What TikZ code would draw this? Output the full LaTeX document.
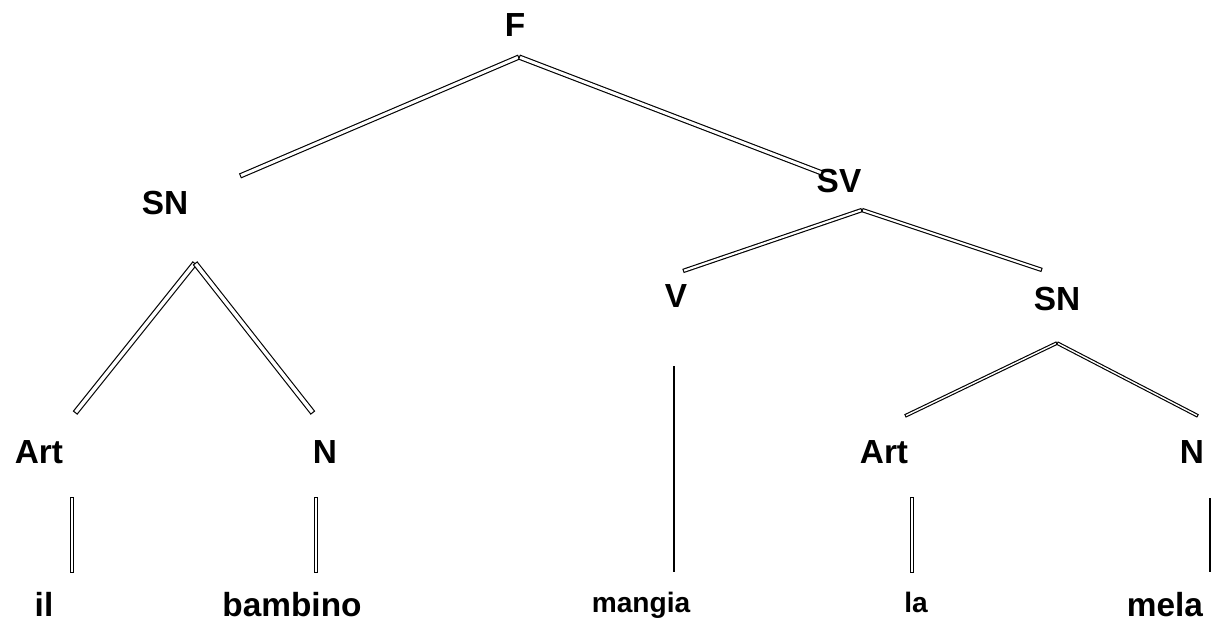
\documentclass[tikz,border=0pt]{standalone}
\usepackage{fontspec}
\setmainfont{Liberation Sans}
\usetikzlibrary{positioning}
\tikzset{
   bar/.style={draw=black, line width=#1,
               postaction={draw=white, line width=#1-1.3pt, shorten <=0.65pt, shorten >=0.65pt}},
   stem/.style={draw=black, line width=1pt}
}
\tikzstyle{cat} = [anchor=base, inner sep=0pt, font=\fontsize{19}{23}\selectfont\bfseries]
\tikzstyle{word} = [anchor=base, inner sep=0pt, font=\fontsize{19}{23}\selectfont\bfseries]
\tikzstyle{smallword} = [anchor=base, inner sep=0pt, font=\fontsize{16}{20}\selectfont\bfseries]

\begin{document}
\begin{tikzpicture}[x=0.2mm,y=-0.2mm]
\useasboundingbox (0,0) rectangle (1212,623);

%% Category labels
\node[cat] (F) at (515,37) {F};
\node[cat] (SNa) at (165,215) {SN};
\node[cat] (SV) at (839,193) {SV};
\node[cat] (V) at (676,307) {V};
\node[cat] (SNb) at (1057,310) {SN};
\node[cat] (Arta) at (39,463) {Art};
\node[cat] (Na) at (325,463) {N};
\node[cat] (Artb) at (884,463) {Art};
\node[cat] (Nb) at (1192,463) {N};

%% Words
\node[word] (il) at (44,616) {il};
\node[word] (bambino) at (292,616) {bambino};
\node[smallword] (mangia) at (641,612) {mangia};
\node[smallword] (la) at (916,612) {la};
\node[word] (mela) at (1165,616) {mela};

%% Branch points
\coordinate (F-top) at (519,57);
\coordinate (F-l) at (240,176);
\coordinate (F-r) at (822,173);
\coordinate (SV-top) at (862,210);
\coordinate (SV-l) at (683,271);
\coordinate (SV-r) at (1042,270);
\coordinate (SNa-top) at (195,263);
\coordinate (SNa-l) at (75,413);
\coordinate (SNa-r) at (313,413);
\coordinate (SNb-top) at (1057,343);
\coordinate (SNb-l) at (905,416);
\coordinate (SNb-r) at (1198,416);

%% Branches
\draw[bar=3pt] (F-top) -- (F-l);
\draw[bar=3pt] (F-top) -- (F-r);
\draw[bar=2.5pt] (SV-top) -- (SV-l);
\draw[bar=2.5pt] (SV-top) -- (SV-r);
\draw[bar=3.3pt] (SNa-top) -- (SNa-l);
\draw[bar=3.3pt] (SNa-top) -- (SNa-r);
\draw[bar=2.1pt] (SNb-top) -- (SNb-l);
\draw[bar=2.1pt] (SNb-top) -- (SNb-r);

%% Lexical stems
\coordinate (il-top) at (72,497);
\coordinate (il-bot) at (72,573);
\coordinate (bambino-top) at (316,497);
\coordinate (bambino-bot) at (316,573);
\coordinate (mangia-top) at (674,366);
\coordinate (mangia-bot) at (674,572);
\coordinate (la-top) at (912,497);
\coordinate (la-bot) at (912,573);
\coordinate (mela-top) at (1210,498);
\coordinate (mela-bot) at (1210,572);

\draw[bar=2.5pt] (il-top) -- (il-bot);
\draw[bar=2.5pt] (bambino-top) -- (bambino-bot);
\draw[stem] (mangia-top) -- (mangia-bot);
\draw[bar=2.2pt] (la-top) -- (la-bot);
\draw[stem] (mela-top) -- (mela-bot);

\end{tikzpicture}
\end{document}
